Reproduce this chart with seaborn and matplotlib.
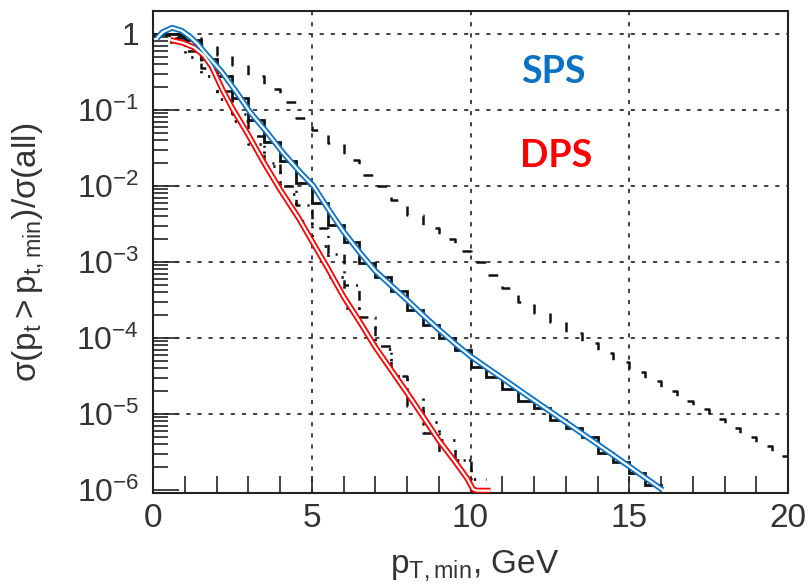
import numpy as np
import pandas as pd
import matplotlib
matplotlib.use("Agg")
import matplotlib.pyplot as plt
from matplotlib.ticker import LogLocator, MultipleLocator, NullFormatter
import seaborn as sns

# ---------------- data ----------------
BIN_WIDTH = 0.5

# solid histogram (SPS), bins of 0.5 GeV starting at 0
sps_hist = [1.0, 0.98, 0.83, 0.46, 0.275, 0.145, 0.074, 0.038, 0.021, 0.011,
            0.006, 0.0031, 0.0018, 9.8e-4, 6.3e-4, 4.1e-4, 2.3e-4, 1.5e-4, 1.0e-4, 6.9e-5,
            4.2e-5, 3.1e-5, 2.1e-5, 1.5e-5, 1.2e-5, 8.3e-6, 6.6e-6, 5.0e-6, 3.1e-6, 2.3e-6,
            1.66e-6, 1.17e-6]

# dotted histogram (DPS)
dps_dot_hist = [0.955, 0.79, 0.5, 0.28, 0.14, 0.071, 0.035, 0.018, 0.0079, 0.0035,
                0.0016, 6.3e-4, 2.5e-4, 1.4e-4, 7.1e-5, 3.2e-5, 1.6e-5, 7.9e-6, 4.5e-6, 2.5e-6,
                1.4e-6]

# dash-dotted histogram
dps_dashdot_hist = [1.0, 0.89, 0.6, 0.355, 0.178, 0.089, 0.045, 0.02, 0.01, 0.0056,
                    0.0028, 0.00126, 5.0e-4, 1.9e-4, 7.9e-5, 3.2e-5, 1.26e-5, 5.6e-6, 3.2e-6, 2.5e-6,
                    7.9e-7]

# dashed histogram (to 20 GeV)
dashed_hist = [0.955, 0.93, 0.87, 0.71, 0.525, 0.39, 0.28, 0.19, 0.126, 0.079,
               0.054, 0.037, 0.022, 0.014, 0.010, 0.0066, 0.0042, 0.0028, 0.0020, 0.0014,
               1.0e-3, 6.8e-4, 4.5e-4, 3.0e-4, 2.1e-4, 1.6e-4, 1.17e-4, 8.5e-5, 6.3e-5, 4.8e-5,
               3.6e-5, 2.7e-5, 2.0e-5, 1.5e-5, 1.15e-5, 8.7e-6, 6.6e-6, 5.0e-6, 3.8e-6, 2.8e-6]

# smooth fits
sps_fit_x = [0.12, 0.3, 0.6, 0.9, 1.17, 1.4, 1.64, 2.18, 2.65, 3.06, 3.6, 4.1, 4.64, 5.05,
             5.5, 6.0, 6.5, 7.0, 7.5, 8.0, 8.5, 9.0, 9.5, 10.0, 10.5, 11.0, 12.0, 13.0,
             14.0, 15.0, 16.05]
sps_fit_y = [0.87, 1.05, 1.2, 1.1, 0.91, 0.74, 0.56, 0.31, 0.166, 0.093, 0.05, 0.027, 0.015, 0.01,
             0.0051, 0.0025, 0.00135, 7.6e-4, 4.9e-4, 3.16e-4, 2.0e-4, 1.29e-4, 8.5e-5, 5.75e-5,
             4.1e-5, 2.95e-5, 1.51e-5, 7.8e-6, 4.0e-6, 2.04e-6, 1.0e-6]

dps_fit_x = [0.55, 0.95, 1.3, 1.6, 1.85, 2.2, 2.5, 3.0, 3.5, 4.0, 4.6, 5.0, 5.5, 6.0, 6.5,
             7.0, 7.5, 8.0, 8.5, 9.0, 9.5, 9.9, 10.08, 10.2, 10.63]
dps_fit_y = [0.83, 0.76, 0.66, 0.52, 0.37, 0.18, 0.105, 0.047, 0.02, 0.009, 0.0037, 0.0019,
             8.3e-4, 3.5e-4, 1.66e-4, 7.6e-5, 3.8e-5, 1.9e-5, 9.3e-6, 4.5e-6, 2.4e-6, 1.41e-6,
             1.02e-6, 9.8e-7, 9.8e-7]

x_ticks = [0, 5, 10, 15, 20]
x_tick_labels = ["0", "5", "10", "15", "20"]
y_ticks = [1e-6, 1e-5, 1e-4, 1e-3, 1e-2, 1e-1, 1]
y_tick_labels = [r"$10^{-6}$", r"$10^{-5}$", r"$10^{-4}$", r"$10^{-3}$",
                 r"$10^{-2}$", r"$10^{-1}$", "1"]
grid_x = [5, 10, 15]
grid_y = [1e-5, 1e-4, 1e-3, 1e-2, 1e-1, 1]

BLUE = "#0a72c4"
RED = "#ff0000"
INK = "#222222"
TXT = "#333333"

# ---------------- style ----------------
plt.rcParams["lines.scale_dashes"] = False
plt.rcParams["font.family"] = ["Liberation Sans", "DejaVu Sans"]
plt.rcParams["mathtext.fontset"] = "custom"
plt.rcParams["mathtext.rm"] = "Liberation Sans"
plt.rcParams["mathtext.it"] = "Liberation Sans"
plt.rcParams["mathtext.default"] = "regular"

fig = plt.figure(figsize=(8.1, 5.84), dpi=100)
W, H = 810, 584
ax = fig.add_axes([153 / W, 1 - 493 / H, (788 - 153) / W, (493 - 11) / H])
ax.set_yscale("log")
ax.set_xlim(0, 20)
ax.set_ylim(10 ** -6.04, 10 ** 0.30)

# grid
for gx in grid_x:
    ax.axvline(gx, color="#333333", lw=1.3, ls=(0, (3, 5)), zorder=1)
for gy in grid_y:
    ax.axhline(gy, color="#333333", lw=1.3, ls=(0, (3, 5)), zorder=1)


def hist_frame(values):
    edges = np.arange(len(values) + 1) * BIN_WIDTH
    return pd.DataFrame({"pt": edges, "frac": list(values) + [values[-1]]})


common = dict(x="pt", y="frac", ax=ax, estimator=None, sort=False,
              drawstyle="steps-post", color="#111111")
sns.lineplot(data=hist_frame(dashed_hist), lw=1.8, ls=(0, (7, 11)), **common)
sns.lineplot(data=hist_frame(dps_dashdot_hist), lw=1.8, ls=(0, (7, 5, 1.5, 5)), **common)
sns.lineplot(data=hist_frame(dps_dot_hist), lw=2.0, ls=(0, (1.6, 7)), **common)
sns.lineplot(data=hist_frame(sps_hist), lw=2.0, solid_joinstyle="miter", **common)

# double-line fits
for fx, fy, col in [(dps_fit_x, dps_fit_y, RED), (sps_fit_x, sps_fit_y, BLUE)]:
    sns.lineplot(x=fx, y=fy, ax=ax, estimator=None, sort=False, color=col, lw=4.2,
                 solid_capstyle="butt", zorder=5)
    sns.lineplot(x=fx, y=fy, ax=ax, estimator=None, sort=False, color="white", lw=1.6,
                 solid_capstyle="butt", zorder=6)

# text labels
ax.text(12.6, 0.31, "SPS", color=BLUE, fontsize=27, fontweight="bold",
        family=["Lato", "DejaVu Sans"], ha="center", va="center")
ax.text(12.7, 0.025, "DPS", color=RED, fontsize=27, fontweight="bold",
        family=["Lato", "DejaVu Sans"], ha="center", va="center")

# ticks
ax.set_xticks(x_ticks)
ax.set_xticklabels(x_tick_labels)
ax.xaxis.set_minor_locator(MultipleLocator(1))
ax.set_yticks(y_ticks)
ax.set_yticklabels(y_tick_labels)
ax.yaxis.set_minor_locator(LogLocator(base=10, subs=np.arange(2, 10)))
ax.yaxis.set_minor_formatter(NullFormatter())

ax.tick_params(axis="x", which="both", direction="in", length=12, width=1.2,
               color=INK, labelsize=24, labelcolor=TXT, pad=7, top=False)
ax.tick_params(axis="y", which="major", direction="in", length=19, width=1.2,
               color=INK, labelsize=23, labelcolor=TXT, pad=10, right=False)
ax.tick_params(axis="y", which="minor", direction="in", length=11, width=1.2,
               color=INK, right=False)

for s in ax.spines.values():
    s.set_color(INK)
    s.set_linewidth(1.5)

ax.set_xlabel(r"$p_{T,min}$, GeV", fontsize=24, color=TXT)
ax.set_ylabel(r"$\sigma(p_t > p_{t,min}) / \sigma(all)$", fontsize=24, color=TXT)
ax.xaxis.set_label_coords((475 - 153) / 635, (493 - 548) / 482)
ax.yaxis.set_label_coords((46 - 153) / 635, 0.5)

fig.savefig("out.png", dpi=100)
